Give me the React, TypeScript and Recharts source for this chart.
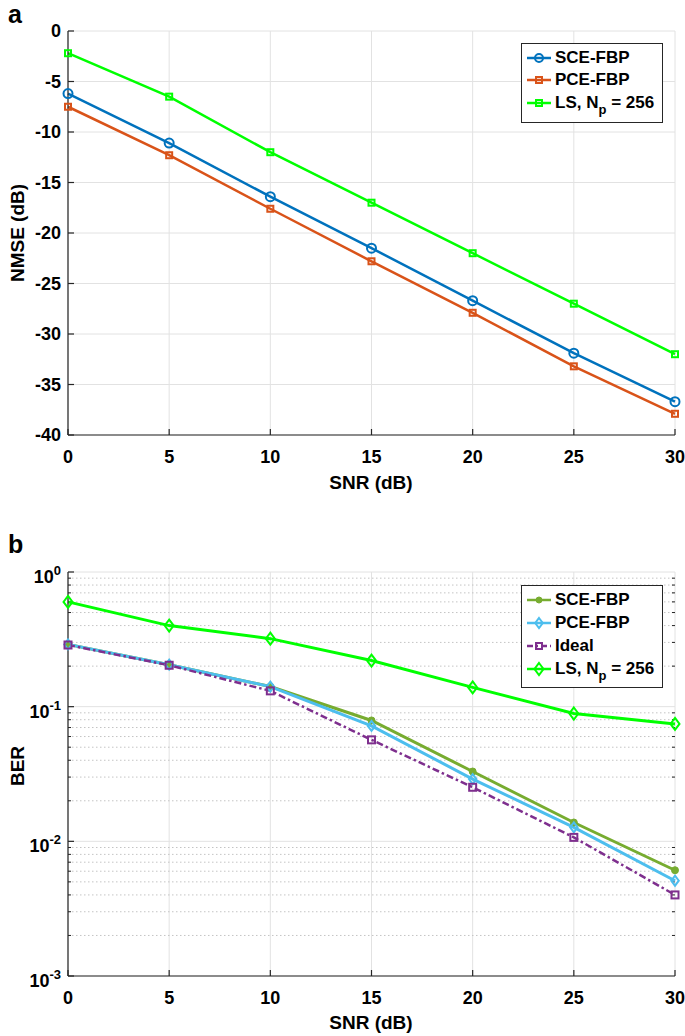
import React from "react";
import { LineChart, Line, XAxis, YAxis, CartesianGrid, Legend, ReferenceLine } from "recharts";

// x values shared by both panels
const snr = [0, 5, 10, 15, 20, 25, 30];

// panel a: NMSE (dB)
const nmseSce = [-6.2, -11.1, -16.4, -21.5, -26.7, -31.9, -36.7];
const nmsePce = [-7.5, -12.3, -17.6, -22.8, -27.9, -33.2, -37.9];
const nmseLs = [-2.2, -6.5, -12.0, -17.0, -22.0, -27.0, -32.0];

// panel b: BER
const berSce = [0.29, 0.205, 0.141, 0.079, 0.033, 0.0138, 0.0061];
const berPce = [0.29, 0.205, 0.141, 0.072, 0.029, 0.0127, 0.0051];
const berIdeal = [0.287, 0.203, 0.131, 0.0567, 0.0252, 0.0107, 0.004];
const berLs = [0.6, 0.4, 0.32, 0.22, 0.139, 0.089, 0.0745];

const snrTicks = [0, 5, 10, 15, 20, 25, 30];
const nmseTicks = [-40, -35, -30, -25, -20, -15, -10, -5, 0];
const berTicks = [0.001, 0.01, 0.1, 1];
const minorMantissa = [2, 3, 4, 5, 6, 7, 8, 9];
const berMinor = berTicks
  .slice(0, 3)
  .flatMap((d) => minorMantissa.map((m) => +(m * d).toPrecision(2)));

const nmseRows = snr.map((s, i) => ({
  snr: s,
  sce: nmseSce[i],
  pce: nmsePce[i],
  ls: nmseLs[i],
}));
const berRows = snr.map((s, i) => ({
  snr: s,
  sce: berSce[i],
  pce: berPce[i],
  ideal: berIdeal[i],
  ls: berLs[i],
}));

const FONT = '"Liberation Sans", Arial, Helvetica, sans-serif';
const AX = "#262626";
const GRID = "#e2e2e2";
const COL = {
  blue: "#0072BD",
  orange: "#D95319",
  green: "#00FF00",
  olive: "#77AC30",
  sky: "#4DBEEE",
  purple: "#7E2F8E",
};

const tickStyle = { fontFamily: FONT, fontSize: 18, fontWeight: 700, fill: "#000" };

function Marker({ kind, cx, cy, color, size }: any) {
  if (kind === "circle")
    return <circle cx={cx} cy={cy} r={size} fill="none" stroke={color} strokeWidth={2} />;
  if (kind === "dotFilled")
    return <circle cx={cx} cy={cy} r={size} fill={color} stroke={color} strokeWidth={1} />;
  if (kind === "square")
    return (
      <rect
        x={cx - size}
        y={cy - size}
        width={size * 2}
        height={size * 2}
        fill="none"
        stroke={color}
        strokeWidth={2}
      />
    );
  // diamond
  const w = size * 0.75;
  return (
    <path
      d={`M${cx},${cy - size} L${cx + w},${cy} L${cx},${cy + size} L${cx - w},${cy} Z`}
      fill="none"
      stroke={color}
      strokeWidth={2}
    />
  );
}

const dot = (kind: string, color: string, size: number) => (p: any) =>
  <Marker key={p.index} kind={kind} cx={p.cx} cy={p.cy} color={color} size={size} />;

function XTick({ x, y, payload }: any) {
  return (
    <text x={x} y={y} dy="0.71em" textAnchor="middle" style={tickStyle}>
      {payload.value}
    </text>
  );
}

function YTickA({ x, y, payload }: any) {
  return (
    <text x={x} y={y} dy="0.36em" textAnchor="end" style={tickStyle}>
      {payload.value}
    </text>
  );
}

function YTickB({ x, y, payload }: any) {
  const e = Math.round(Math.log10(payload.value));
  return (
    <text x={x} y={y + 11} textAnchor="end" style={tickStyle}>
      <tspan>10</tspan>
      <tspan dy={-8} fontSize={13}>
        {e}
      </tspan>
    </text>
  );
}

type Item = { label: React.ReactNode; color: string; kind: string; size: number; dash?: string; top: number };

function LegendBox({ items, height }: { items: Item[]; height: number }) {
  return (
    <div
      style={{
        width: 142,
        height,
        boxSizing: "border-box",
        border: `1.5px solid ${AX}`,
        background: "#fff",
        position: "relative",
        fontFamily: FONT,
        fontWeight: 700,
        fontSize: 17,
        color: "#000",
      }}
    >
      {items.map((it, i) => (
        <div
          key={i}
          style={{ position: "absolute", left: 4, top: it.top - 10, height: 20, display: "flex", alignItems: "center" }}
        >
          <svg width={26} height={20} style={{ display: "block" }}>
            <line x1={1} x2={25} y1={10} y2={10} stroke={it.color} strokeWidth={2.5} strokeDasharray={it.dash} />
            <Marker kind={it.kind} cx={13} cy={10} color={it.color} size={it.size} />
          </svg>
          <span style={{ marginLeft: 3, whiteSpace: "nowrap", lineHeight: "20px" }}>{it.label}</span>
        </div>
      ))}
    </div>
  );
}

const lsLabel = (
  <>
    LS, N
    <span style={{ fontSize: 13, position: "relative", top: 6 }}>p</span> = 256
  </>
);

const legendA: Item[] = [
  { label: "SCE-FBP", color: COL.blue, kind: "circle", size: 4, top: 14 },
  { label: "PCE-FBP", color: COL.orange, kind: "square", size: 3, top: 36 },
  { label: lsLabel, color: COL.green, kind: "square", size: 3, top: 59 },
];

const legendB: Item[] = [
  { label: "SCE-FBP", color: COL.olive, kind: "dotFilled", size: 3, top: 14 },
  { label: "PCE-FBP", color: COL.sky, kind: "diamond", size: 5, top: 37 },
  { label: "Ideal", color: COL.purple, kind: "square", size: 3, dash: "6 3 2 3", top: 60 },
  { label: lsLabel, color: COL.green, kind: "diamond", size: 6, top: 83 },
];

const axisLabel = (text: string, x: number, y: number, rotate = false) => () =>
  (
    <text
      x={x}
      y={y}
      textAnchor="middle"
      dominantBaseline="central"
      transform={rotate ? `rotate(-90 ${x} ${y})` : undefined}
      style={{ fontFamily: FONT, fontSize: 19, fontWeight: 700, fill: "#000" }}
    >
      {text}
    </text>
  );

function PanelLetter({ text, top }: { text: string; top: number }) {
  return (
    <div
      style={{
        position: "absolute",
        left: 8,
        top,
        fontFamily: FONT,
        fontWeight: 700,
        fontSize: 25,
        lineHeight: "28px",
      }}
    >
      {text}
    </div>
  );
}

export default function App() {
  return (
    <div
      style={{ position: "absolute", left: 0, top: 0, width: 685, height: 1036, background: "#fff" }}
    >
      <PanelLetter text="a" top={0} />
      <PanelLetter text="b" top={530} />

      <div style={{ position: "absolute", left: 0, top: 0 }}>
        <LineChart width={685} height={520} data={nmseRows} margin={{ top: 31, right: 10, bottom: 35, left: 0 }}>
          <CartesianGrid stroke={GRID} strokeWidth={1} />
          <XAxis
            dataKey="snr"
            type="number"
            domain={[0, 30]}
            ticks={snrTicks}
            height={50}
            tickSize={-6}
            tickMargin={21}
            stroke={AX}
            strokeWidth={1.2}
            tick={<XTick />}
            label={{ content: axisLabel("SNR (dB)", 371, 482) }}
          />
          <XAxis
            xAxisId="top"
            orientation="top"
            dataKey="snr"
            type="number"
            domain={[0, 30]}
            ticks={snrTicks}
            height={0}
            tickSize={-6}
            tick={() => <g />}
            stroke={AX}
            strokeWidth={1.2}
            allowDataOverflow
          />
          <YAxis
            type="number"
            domain={[-40, 0]}
            ticks={nmseTicks}
            width={68}
            tickSize={-6}
            tickMargin={13}
            stroke={AX}
            strokeWidth={1.2}
            tick={<YTickA />}
            label={{ content: axisLabel("NMSE (dB)", 17, 233, true) }}
          />
          <YAxis
            yAxisId="right"
            orientation="right"
            type="number"
            domain={[-40, 0]}
            ticks={nmseTicks}
            width={0}
            tickSize={-6}
            tick={() => <g />}
            stroke={AX}
            strokeWidth={1.2}
            allowDataOverflow
          />
          <Legend
            verticalAlign="middle"
            align="center"
            layout="horizontal"
            wrapperStyle={{ left: 521, top: 43, width: 142, height: 80 }}
            content={() => <LegendBox items={legendA} height={80} />}
          />
          <Line type="linear" dataKey="sce" stroke={COL.blue} strokeWidth={2.5} dot={dot("circle", COL.blue, 4.5)} activeDot={false} isAnimationActive={false} />
          <Line type="linear" dataKey="pce" stroke={COL.orange} strokeWidth={2.5} dot={dot("square", COL.orange, 3)} activeDot={false} isAnimationActive={false} />
          <Line type="linear" dataKey="ls" stroke={COL.green} strokeWidth={2.5} dot={dot("square", COL.green, 3)} activeDot={false} isAnimationActive={false} />
        </LineChart>
      </div>

      <div style={{ position: "absolute", left: 0, top: 520 }}>
        <LineChart width={685} height={516} data={berRows} margin={{ top: 52, right: 10, bottom: 10, left: 0 }}>
          <CartesianGrid yAxisId="major" stroke={GRID} strokeWidth={1} />
          {berMinor.map((v) => (
            <ReferenceLine
              key={`g${v}`}
              yAxisId="major"
              y={v}
              stroke="#c4c4c4"
              strokeDasharray="1.5 2.5"
              strokeWidth={1}
            />
          ))}
          {berMinor.map((v) => (
            <ReferenceLine
              key={`l${v}`}
              yAxisId="major"
              segment={[{ x: 0, y: v }, { x: 0.15, y: v }]}
              stroke={AX}
              strokeWidth={1}
            />
          ))}
          {berMinor.map((v) => (
            <ReferenceLine
              key={`r${v}`}
              yAxisId="major"
              segment={[{ x: 29.85, y: v }, { x: 30, y: v }]}
              stroke={AX}
              strokeWidth={1}
            />
          ))}
          <XAxis
            dataKey="snr"
            type="number"
            domain={[0, 30]}
            ticks={snrTicks}
            height={50}
            tickSize={-6}
            tickMargin={21}
            stroke={AX}
            strokeWidth={1.2}
            tick={<XTick />}
            label={{ content: axisLabel("SNR (dB)", 371, 502) }}
          />
          <XAxis
            xAxisId="top"
            orientation="top"
            dataKey="snr"
            type="number"
            domain={[0, 30]}
            ticks={snrTicks}
            height={0}
            tickSize={-6}
            tick={() => <g />}
            stroke={AX}
            strokeWidth={1.2}
            allowDataOverflow
          />
          <YAxis
            yAxisId="major"
            scale="log"
            type="number"
            domain={[0.001, 1]}
            ticks={berTicks}
            width={68}
            tickSize={-6}
            tickMargin={13}
            stroke={AX}
            strokeWidth={1.2}
            tick={<YTickB />}
            allowDataOverflow
            label={{ content: axisLabel("BER", 17, 246, true) }}
          />
          <YAxis
            yAxisId="right"
            orientation="right"
            scale="log"
            type="number"
            domain={[0.001, 1]}
            ticks={berTicks}
            width={0}
            tickSize={-6}
            tick={() => <g />}
            stroke={AX}
            strokeWidth={1.2}
            allowDataOverflow
          />
          <Legend
            verticalAlign="middle"
            align="center"
            layout="horizontal"
            wrapperStyle={{ left: 521, top: 65, width: 142, height: 103 }}
            content={() => <LegendBox items={legendB} height={103} />}
          />
          <Line yAxisId="major" type="linear" dataKey="sce" stroke={COL.olive} strokeWidth={3} dot={dot("dotFilled", COL.olive, 3.5)} activeDot={false} isAnimationActive={false} />
          <Line yAxisId="major" type="linear" dataKey="pce" stroke={COL.sky} strokeWidth={3} dot={dot("diamond", COL.sky, 5)} activeDot={false} isAnimationActive={false} />
          <Line yAxisId="major" type="linear" dataKey="ideal" stroke={COL.purple} strokeWidth={2.5} strokeDasharray="7 3 2.5 3" dot={dot("square", COL.purple, 3.5)} activeDot={false} isAnimationActive={false} />
          <Line yAxisId="major" type="linear" dataKey="ls" stroke={COL.green} strokeWidth={3} dot={dot("diamond", COL.green, 6)} activeDot={false} isAnimationActive={false} />
        </LineChart>
      </div>
    </div>
  );
}
